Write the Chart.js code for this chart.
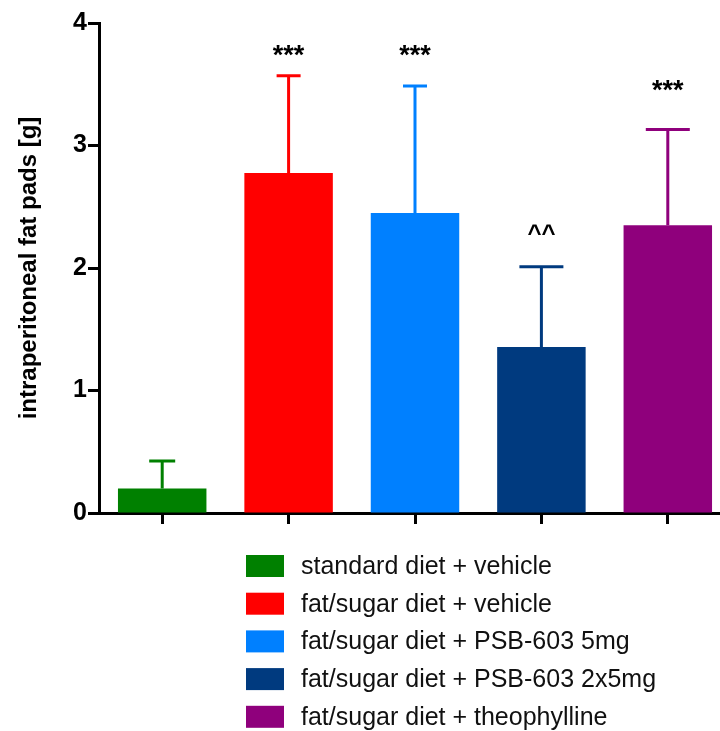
<!DOCTYPE html>
<html>
<head>
<meta charset="utf-8">
<script src="https://cdn.jsdelivr.net/npm/chart.js@4/dist/chart.umd.min.js"></script>
<style>
  html, body { margin: 0; padding: 0; background: #fff; overflow: hidden; }
  #wrap { width: 732px; height: 731px; }
</style>
</head>
<body>
<div id="wrap"><canvas id="fat-chart"></canvas></div>
<script>
// groups and their values (mean, upper SD)
const groups = [
    'standard diet + vehicle',
    'fat/sugar diet + vehicle',
    'fat/sugar diet + PSB-603 5mg',
    'fat/sugar diet + PSB-603 2x5mg',
    'fat/sugar diet + theophylline'
];
const means = [0.20, 2.775, 2.45, 1.355, 2.35];
const errors = [0.225, 0.795, 1.035, 0.655, 0.78];
const marks = ['', '***', '***', '^^', '***'];
const markValues = [null, 3.78, 3.78, 2.30, 3.50];
const yTicks = [0, 1, 2, 3, 4];

const barColors = ['#008000', '#ff0000', '#0080ff', '#003a7f', '#8f007c'];
const capWidths = [26, 24, 24, 44, 44];
const fontFamily = '"Liberation Sans", Arial, Helvetica, sans-serif';

// upper error bars + significance marks
const errorBarPlugin = {
    id: 'errorBars',
    afterDatasetsDraw(chart) {
        const ctx = chart.ctx;
        const meta = chart.getDatasetMeta(0);
        const y = chart.scales.y;
        ctx.save();
        meta.data.forEach((bar, i) => {
            const top = y.getPixelForValue(means[i] + errors[i]);
            ctx.strokeStyle = barColors[i];
            ctx.lineWidth = 3;
            ctx.beginPath();
            ctx.moveTo(bar.x, bar.y);
            ctx.lineTo(bar.x, top);
            ctx.moveTo(bar.x - capWidths[i] / 2, top);
            ctx.lineTo(bar.x + capWidths[i] / 2, top);
            ctx.stroke();
            if (marks[i]) {
                ctx.fillStyle = '#000';
                ctx.font = (marks[i] === '^^' ? 'bold 24px ' : 'bold 27px ') + fontFamily;
                ctx.textAlign = 'center';
                ctx.textBaseline = 'middle';
                // asterisks sit high in the em box, push them down a bit
                const shift = marks[i] === '^^' ? 3 : 7;
                ctx.fillText(marks[i], bar.x, y.getPixelForValue(markValues[i]) + shift);
            }
        });
        ctx.restore();
    }
};

// legend as a single column under the plot
const columnLegendPlugin = {
    id: 'columnLegend',
    afterDraw(chart) {
        const ctx = chart.ctx;
        ctx.save();
        ctx.font = '25px ' + fontFamily;
        ctx.textBaseline = 'middle';
        ctx.textAlign = 'left';
        groups.forEach((label, i) => {
            const rowY = 555 + i * 37.7;
            ctx.fillStyle = barColors[i];
            ctx.fillRect(246, rowY, 38, 22);
            ctx.fillStyle = '#111';
            ctx.fillText(label, 301, rowY + 12);
        });
        ctx.restore();
    }
};

new Chart(document.getElementById('fat-chart'), {
    type: 'bar',
    data: {
        labels: groups,
        datasets: [{
            data: means,
            backgroundColor: barColors,
            borderWidth: 0,
            barPercentage: 0.70,
            categoryPercentage: 1.0
        }]
    },
    options: {
        responsive: true,
        maintainAspectRatio: false,
        animation: false,
        layout: {
            padding: { left: 0, top: 23, right: 1, bottom: 206 }
        },
        scales: {
            x: {
                grid: {
                    offset: false,
                    drawOnChartArea: false,
                    drawTicks: true,
                    tickLength: 11,
                    tickWidth: 3,
                    tickColor: '#000'
                },
                border: { color: '#000', width: 3 },
                ticks: { display: false },
                afterFit(scale) { scale.height = 12; }
            },
            y: {
                min: 0,
                max: 4,
                afterBuildTicks(scale) {
                    scale.ticks = yTicks.map(v => ({ value: v }));
                },
                grid: {
                    drawOnChartArea: false,
                    drawTicks: true,
                    tickLength: 11,
                    tickWidth: 3,
                    tickColor: '#000'
                },
                border: { color: '#000', width: 3 },
                ticks: {
                    color: '#000',
                    padding: 1,
                    font: { family: fontFamily, size: 25, weight: 'bold' }
                },
                title: {
                    display: true,
                    text: 'intraperitoneal fat pads [g]',
                    color: '#000',
                    padding: { top: 15, bottom: 0 },
                    font: { family: fontFamily, size: 24, weight: 'bold' }
                },
                afterFit(scale) { scale.width = 99; }
            }
        },
        plugins: {
            legend: { display: false },
            tooltip: { enabled: false }
        }
    },
    plugins: [errorBarPlugin, columnLegendPlugin]
});
</script>
</body>
</html>
